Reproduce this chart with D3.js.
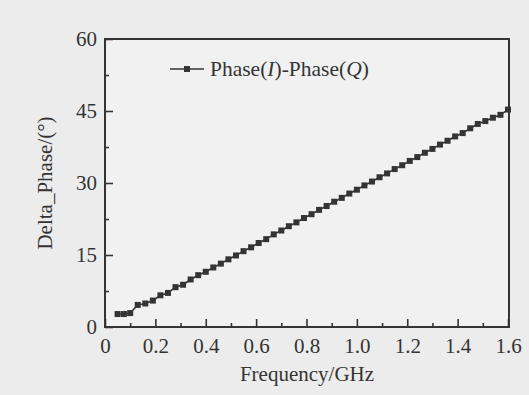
<!DOCTYPE html>
<html>
<head>
<meta charset="utf-8">
<script src="https://cdn.jsdelivr.net/npm/d3@7"></script>
<style>
  html, body { margin: 0; padding: 0; background: #ececec; }
  svg { display: block; }
</style>
</head>
<body>
<svg id="chart" width="529" height="395"></svg>
<script>
// data
const freq = [0.05, 0.075, 0.1, 0.13, 0.16, 0.19, 0.22, 0.25, 0.28, 0.31, 0.34, 0.37, 0.40, 0.43,
  0.46, 0.49, 0.52, 0.55, 0.58, 0.61, 0.64, 0.67, 0.70, 0.73, 0.76, 0.79, 0.82, 0.85, 0.88, 0.91,
  0.94, 0.97, 1.00, 1.03, 1.06, 1.09, 1.12, 1.15, 1.18, 1.21, 1.24, 1.27, 1.30, 1.33, 1.36, 1.39,
  1.42, 1.45, 1.48, 1.51, 1.54, 1.57, 1.60]
const deltaPhase = [2.7, 2.7, 2.9, 4.6, 4.9, 5.5, 6.6, 7.1, 8.3, 8.8, 9.9, 10.8, 11.5, 12.4,
  13.2, 14.1, 14.9, 15.8, 16.6, 17.5, 18.3, 19.3, 20.1, 21.0, 21.8, 22.7, 23.5, 24.4, 25.2, 26.1,
  26.9, 27.8, 28.6, 29.5, 30.3, 31.2, 32.0, 32.9, 33.7, 34.6, 35.4, 36.3, 37.1, 38.0, 38.8, 39.7,
  40.4, 41.4, 42.3, 42.9, 43.6, 44.2, 45.3]
const xMajor = [0, 0.2, 0.4, 0.6, 0.8, 1.0, 1.2, 1.4, 1.6]
const xMinor = [0.1, 0.3, 0.5, 0.7, 0.9, 1.1, 1.3, 1.5]
const yMajor = [0, 15, 30, 45, 60]
const yMinor = [7.5, 22.5, 37.5, 52.5]
const seriesName = ["Phase(", "I", ")-Phase(", "Q", ")"]

const ink = "#343434"
const font = "'Liberation Serif', 'Times New Roman', serif"
const plotL = 105, plotR = 509, plotT = 39, plotB = 327

const svg = d3.select("#chart")
const x = d3.scaleLinear().domain([0, 1.6]).range([plotL, 508])
const y = d3.scaleLinear().domain([0, 60]).range([plotB, plotT])

// plot area
svg.append("rect")
  .attr("x", plotL).attr("y", plotT)
  .attr("width", plotR - plotL).attr("height", plotB - plotT)
  .attr("fill", "#f1f1f1")

// x axis
const gx = svg.append("g")
  .attr("transform", `translate(0,${plotB})`)
  .call(d3.axisBottom(x).tickValues(xMajor).tickSize(-8).tickPadding(11)
    .tickFormat(d => d === 0 ? "0" : d3.format(".1f")(d)))
gx.append("g")
  .call(d3.axisBottom(x).tickValues(xMinor).tickSize(-4).tickFormat(""))

// y axis
const gy = svg.append("g")
  .attr("transform", `translate(${plotL},0)`)
  .call(d3.axisLeft(y).tickValues(yMajor).tickSize(-8).tickPadding(8))
gy.append("g")
  .call(d3.axisLeft(y).tickValues(yMinor).tickSize(-4).tickFormat(""))

svg.selectAll(".domain").remove()
svg.selectAll(".tick line").attr("stroke", ink).attr("stroke-width", 1.6)
svg.selectAll(".tick text")
  .attr("fill", ink)
  .style("font-family", font)
  .style("font-size", "21px")

// frame
svg.append("rect")
  .attr("x", plotL).attr("y", plotT)
  .attr("width", plotR - plotL).attr("height", plotB - plotT)
  .attr("fill", "none")
  .attr("stroke", ink)
  .attr("stroke-width", 2)

// series
const pts = freq.map((f, i) => [f, deltaPhase[i]])
svg.append("path")
  .datum(pts)
  .attr("fill", "none")
  .attr("stroke", ink)
  .attr("stroke-width", 1.6)
  .attr("d", d3.line().x(d => x(d[0])).y(d => y(d[1])))

const ms = 6
svg.append("g").selectAll("rect")
  .data(pts)
  .enter().append("rect")
  .attr("x", d => x(d[0]) - ms / 2)
  .attr("y", d => y(d[1]) - ms / 2)
  .attr("width", ms).attr("height", ms)
  .attr("fill", ink)

// legend
const lg = svg.append("g").attr("transform", "translate(170,69)")
lg.append("line")
  .attr("x1", 0).attr("x2", 34).attr("y1", 0).attr("y2", 0)
  .attr("stroke", ink).attr("stroke-width", 1.6)
lg.append("rect")
  .attr("x", 17 - ms / 2).attr("y", -ms / 2)
  .attr("width", ms).attr("height", ms)
  .attr("fill", ink)
const lt = lg.append("text")
  .attr("x", 40).attr("y", 7)
  .attr("fill", ink)
  .style("font-family", font)
  .style("font-size", "21.5px")
lt.selectAll("tspan")
  .data(seriesName)
  .enter().append("tspan")
  .style("font-style", (d, i) => i % 2 === 1 ? "italic" : "normal")
  .text(d => d)

// axis titles
svg.append("text")
  .attr("x", (plotL + plotR) / 2)
  .attr("y", 381)
  .attr("text-anchor", "middle")
  .attr("fill", ink)
  .style("font-family", font)
  .style("font-size", "21px")
  .text("Frequency/GHz")

svg.append("text")
  .attr("transform", `translate(52,${(plotT + plotB) / 2}) rotate(-90)`)
  .attr("text-anchor", "middle")
  .attr("fill", ink)
  .style("font-family", font)
  .style("font-size", "21px")
  .text("Delta_Phase/(°)")
</script>
</body>
</html>
